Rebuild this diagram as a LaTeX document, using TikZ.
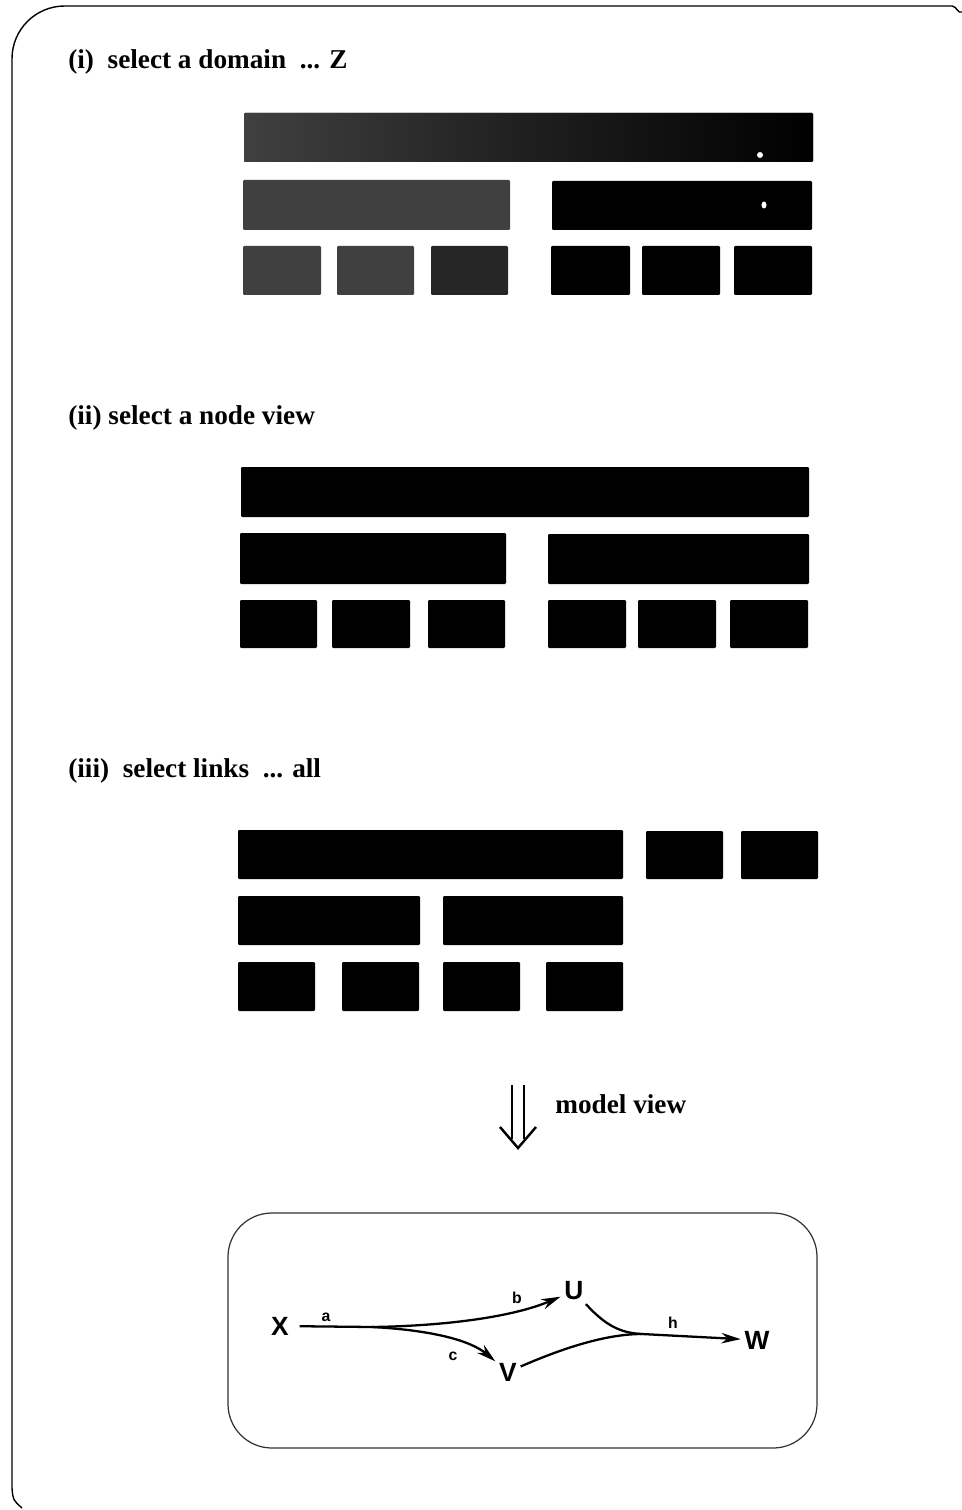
\documentclass[tikz,border=0pt]{standalone}
\usepackage{fontspec}
\setmainfont{Liberation Serif}
\newfontfamily\graphfont{Liberation Sans}
\usetikzlibrary{arrows.meta,calc}

\begin{document}
\begin{tikzpicture}[x=0.02cm,y=-0.02cm,>={Stealth[length=11pt,width=6pt]}]
    \tikzset{
        blk/.style={fill=black,rounded corners=0.6pt},
        gry/.style={fill=black!75,rounded corners=0.6pt},
        hdr/.style={anchor=base west,inner sep=0pt,font=\bfseries\fontsize{15.5}{19}\selectfont},
        vtx/.style={font=\graphfont\bfseries\fontsize{15}{17}\selectfont,inner sep=2pt},
        lbl/.style={font=\graphfont\bfseries\fontsize{9}{10}\selectfont,inner sep=0pt},
        edge/.style={line width=1.3pt}
    }
    \useasboundingbox (0,0) rectangle (962,1510);
    % outer frame
    \draw[line width=0.8pt] (22,1508) .. controls (13,1500) .. (12,1488) [rounded corners=30] -- (12,6) -- (952,6);
    \draw[line width=0.8pt] (952,6) to[out=0,in=-150] (962,12);

    % (i) domain
    \node[hdr] (h1) at (68,69) {(i)\ \ select a domain\ \ ... Z};
    \fill[left color=black!75,right color=black,middle color=black!88,rounded corners=0.6pt] (244,113) rectangle (813,162);
    \fill[gry] (243,180) rectangle (510,230);
    \fill[blk] (552,181) rectangle (812,230);
    \fill[gry] (243,246) rectangle (321,295);
    \fill[gry] (337,246) rectangle (414,295);
    \fill[fill=black!85,rounded corners=0.6pt] (431,246) rectangle (508,295);
    \fill[blk] (551,246) rectangle (630,295);
    \fill[blk] (642,246) rectangle (720,295);
    \fill[blk] (734,246) rectangle (812,295);
    \fill[white] (760,155) circle (3);
    \fill[white] (764,205) ellipse (2.5 and 3.5);

    % (ii) node view
    \node[hdr] (h2) at (68,424) {(ii) select a node view};
    \fill[blk] (241,467) rectangle (809,517);
    \fill[blk] (240,533) rectangle (506,584);
    \fill[blk] (548,534) rectangle (809,584);
    \foreach \xa/\xb in {240/317,332/410,428/505,548/626,638/716,730/808}
        \fill[blk] (\xa,600) rectangle (\xb,648);

    % (iii) links
    \node[hdr] (h3) at (68,777) {(iii)\ \ select links\ \ ... all};
    \fill[blk] (238,830) rectangle (623,879);
    \fill[blk] (646,831) rectangle (723,879);
    \fill[blk] (741,831) rectangle (818,879);
    \fill[blk] (238,896) rectangle (420,945);
    \fill[blk] (443,896) rectangle (623,945);
    \foreach \xa/\xb in {238/315,342/419,443/520,546/623}
        \fill[blk] (\xa,962) rectangle (\xb,1011);

    % model view arrow
    \coordinate (dtop) at (518,1085);
    \coordinate (dtip) at (518,1148);
    \draw[line width=1.4pt] ($(dtop)+(-6,0)$) -- ($(dtip)+(-6,-9)$);
    \draw[line width=1.4pt] ($(dtop)+(6,0)$) -- ($(dtip)+(6,-9)$);
    \draw[line width=1.4pt] ($(dtip)+(-18,-21)$) -- (dtip) -- ($(dtip)+(18,-21)$);
    \node[hdr] (mv) at (555,1113) {model view};

    % model box
    \draw[line width=0.7pt,black!80,rounded corners=25] (228,1213) rectangle (817,1448);
    \node[vtx] (X) at (280,1326) {X};
    \node[vtx] (U) at (574,1291) {U};
    \node[vtx] (V) at (508,1372) {V};
    \node[vtx] (W) at (757,1340) {W};
    \coordinate (fork) at (372,1327);
    \coordinate (join) at (642,1334);
    \draw[edge,shorten <=4pt] (X) -- (fork);
    \draw[edge,->] (fork) .. controls (440,1326) and (510,1318) .. (U);
    \draw[edge,->] (fork) .. controls (430,1330) and (470,1340) .. (V);
    \draw[edge] (U) .. controls (605,1325) and (620,1333) .. (join);
    \draw[edge] (V) .. controls (570,1345) and (610,1334) .. (join);
    \draw[edge,->] (join) -- (W);
    \node[lbl] (la) at (326,1317) {a};
    \node[lbl] (lb) at (517,1298) {b};
    \node[lbl] (lc) at (453,1356) {c};
    \node[lbl] (lh) at (673,1323) {h};
\end{tikzpicture}
\end{document}
